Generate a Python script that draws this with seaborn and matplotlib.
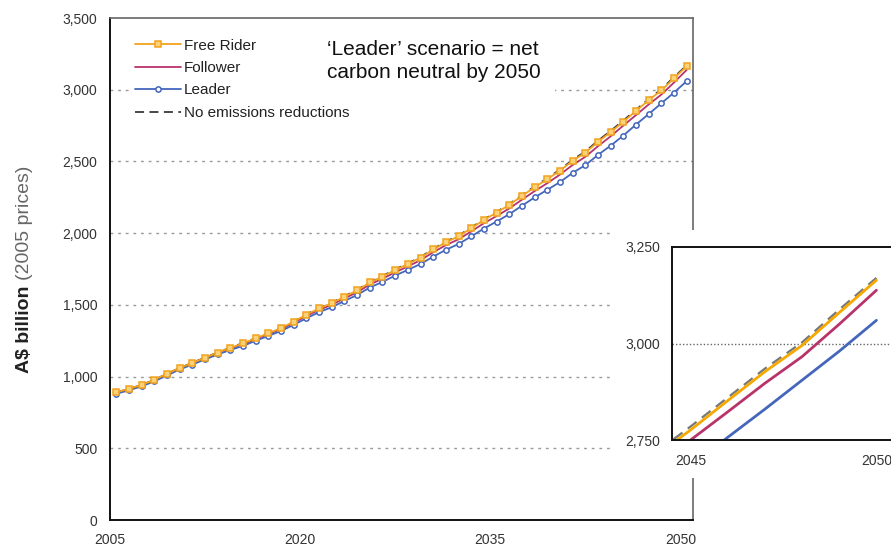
import pandas as pd
import matplotlib.pyplot as plt
import seaborn as sns
from matplotlib.patches import Rectangle
from matplotlib.ticker import FuncFormatter

years = list(range(2005, 2051))

free_rider = [890, 915, 942, 978, 1020, 1060, 1095, 1132, 1167, 1200,
              1232, 1267, 1302, 1338, 1383, 1432, 1475, 1512, 1557, 1601,
              1656, 1697, 1743, 1785, 1829, 1886, 1936, 1978, 2034, 2092,
              2143, 2197, 2259, 2320, 2376, 2436, 2504, 2561, 2636, 2705,
              2776, 2852, 2927, 2995, 3080, 3164]
follower = [888, 913, 940, 976, 1018, 1058, 1093, 1130, 1164, 1197,
            1226, 1262, 1296, 1331, 1375, 1423, 1465, 1501, 1545, 1588,
            1642, 1682, 1727, 1768, 1811, 1867, 1916, 1957, 2012, 2069,
            2119, 2172, 2233, 2293, 2348, 2408, 2475, 2532, 2606, 2675,
            2750, 2823, 2897, 2966, 3050, 3138]
leader = [880, 905, 932, 967, 1008, 1050, 1084, 1120, 1154, 1186,
          1214, 1250, 1284, 1318, 1361, 1407, 1449, 1484, 1527, 1569,
          1621, 1660, 1704, 1744, 1785, 1836, 1884, 1924, 1977, 2032,
          2081, 2132, 2191, 2249, 2302, 2356, 2420, 2474, 2545, 2610,
          2680, 2757, 2830, 2905, 2980, 3060]
no_reduction = [888, 914, 941, 977, 1019, 1060, 1096, 1133, 1168, 1202,
                1234, 1269, 1304, 1340, 1385, 1434, 1478, 1515, 1560, 1604,
                1659, 1701, 1747, 1789, 1833, 1890, 1941, 1983, 2039, 2097,
                2148, 2203, 2265, 2326, 2382, 2443, 2511, 2569, 2644, 2713,
                2785, 2860, 2935, 3003, 3088, 3170]

x_labels = ['2005', '', '', '2020', '', '', '2035', '', '', '2050']
y_ticks = [0, 500, 1000, 1500, 2000, 2500, 3000, 3500]
inset_years = ['2045', '2050']

df = pd.DataFrame({'year': years, 'Free Rider': free_rider, 'Follower': follower,
                   'Leader': leader, 'No emissions reductions': no_reduction})

sns.set_style("white")
plt.rcParams['font.family'] = ['Liberation Sans', 'DejaVu Sans']

orange = '#F2A21E'
magenta = '#B8336A'
blue = '#4466BB'
dark = '#3A3A3A'

fig = plt.figure(figsize=(8.91, 5.51), dpi=100)
W, H = 891, 551
ax = fig.add_axes([110 / W, 1 - 520 / H, (693 - 110) / W, (520 - 18) / H])

sns.lineplot(data=df, x='year', y='Follower', ax=ax, color=magenta, lw=1.3, label='Follower')
sns.lineplot(data=df, x='year', y='No emissions reductions', ax=ax, color=dark, lw=1.3,
             dashes=(5, 3), label='No emissions reductions')
sns.lineplot(data=df, x='year', y='Leader', ax=ax, color=blue, lw=1.3, marker='o',
             markersize=3.8, markerfacecolor='white', markeredgecolor=blue,
             markeredgewidth=1.1, label='Leader')
sns.lineplot(data=df, x='year', y='Free Rider', ax=ax, color=orange, lw=1.3, marker='s',
             markersize=4.3, markerfacecolor='#F9D27A', markeredgecolor=orange,
             markeredgewidth=1.1, label='Free Rider')

ax.set_xlim(2004.5, 2050.5)
ax.set_ylim(0, 3500)
ax.set_xticks([2004.5 + 5 * k for k in range(10)])
ax.set_xticklabels(x_labels)
ax.set_yticks(y_ticks)
ax.yaxis.set_major_formatter(FuncFormatter(lambda v, p: f'{int(v):,}'))
ax.tick_params(axis='both', direction='out', length=6, width=1.1, color='#222',
               labelsize=10, labelcolor='#333', pad=3)
ax.set_xlabel('')
ax.set_ylabel('')
for y in y_ticks[1:-1]:
    ax.axhline(y, color='#999999', lw=1, ls=(0, (2, 3.5)), zorder=0)
for s in ['left', 'bottom']:
    ax.spines[s].set_color('#111')
    ax.spines[s].set_linewidth(1.4)
for s in ['top', 'right']:
    ax.spines[s].set_color('#666')
    ax.spines[s].set_linewidth(1.2)

handles, labels = ax.get_legend_handles_labels()
order = ['Free Rider', 'Follower', 'Leader', 'No emissions reductions']
hmap = dict(zip(labels, handles))
leg = ax.legend([hmap[k] for k in order], order, loc='upper left',
                bbox_to_anchor=(0.035, 0.968), fontsize=11, handlelength=3,
                handletextpad=0.2, labelspacing=0.55, frameon=True,
                facecolor='white', edgecolor='none', framealpha=1,
                borderaxespad=0, borderpad=0.3)
for t in leg.get_texts():
    t.set_color('#222')

fig.text(327 / W, 1 - 40 / H, '\u2018Leader\u2019 scenario = net\ncarbon neutral by 2050',
         fontsize=15, va='top', ha='left', color='#111', linespacing=1.25,
         bbox=dict(facecolor='white', edgecolor='none', pad=10))

t1 = fig.text(0.028, 1 - 373 / H, 'A$ billion', rotation=90, fontsize=14,
              fontweight='bold', ha='center', va='bottom', color='#222')
fig.canvas.draw()
bb = t1.get_window_extent()
fig.text(0.028, (bb.y1 + 5) / H, '(2005 prices)', rotation=90, fontsize=14,
         ha='center', va='bottom', color='#666')

# white panel behind the zoomed inset
fig.patches.append(Rectangle((613 / W, 1 - 478 / H), (W - 613) / W, (478 - 230) / H,
                             transform=fig.transFigure, facecolor='white',
                             edgecolor='none', zorder=1))

ins = fig.add_axes([672 / W, 1 - 440 / H, 223 / W, (440 - 247) / H], zorder=2)
sns.lineplot(data=df, x='year', y='No emissions reductions', ax=ins, color='#777',
             lw=1.6, dashes=(5, 3))
sns.lineplot(data=df, x='year', y='Follower', ax=ins, color=magenta, lw=2)
sns.lineplot(data=df, x='year', y='Leader', ax=ins, color=blue, lw=2)
sns.lineplot(data=df, x='year', y='Free Rider', ax=ins, color='#F5A800', lw=2)
ins.set_xlim(2044.5, 2050.5)
ins.set_ylim(2750, 3250)
ins.set_yticks([2750, 3000, 3250])
ins.yaxis.set_major_formatter(FuncFormatter(lambda v, p: f'{int(v):,}'))
ins.set_xticks([2044.5, 2049.5])
ins.set_xticklabels(['', ''])
ins.set_xticks([2045, 2050], minor=True)
ins.set_xticklabels(inset_years, minor=True)
ins.tick_params(axis='x', which='minor', length=0, pad=10, labelsize=10, labelcolor='#333')
ins.tick_params(axis='both', which='major', direction='out', length=5, width=1.1,
                color='#222', labelsize=10, labelcolor='#333')
ins.axhline(3000, color='#666', lw=1, ls=(0, (1, 1.5)), zorder=0)
ins.set_xlabel('')
ins.set_ylabel('')
for s in ins.spines.values():
    s.set_color('#111')
    s.set_linewidth(1.4)

fig.savefig('out.png', dpi=100)
